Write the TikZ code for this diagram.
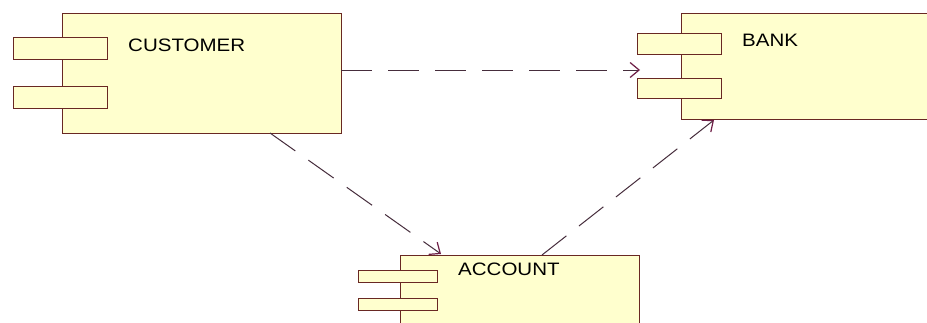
\documentclass[tikz,border=0pt]{standalone}
\usepackage{fontspec}
\newfontfamily\lblfont[FakeStretch=1.14]{Liberation Sans}
\usetikzlibrary{arrows.meta}
\definecolor{boxfill}{RGB}{255,255,206}
\definecolor{boxline}{RGB}{105,40,35}
\definecolor{depline}{RGB}{70,45,60}
\definecolor{headcol}{RGB}{110,30,70}
\tikzset{
  comp/.style={draw=boxline, fill=boxfill, line width=1.4pt, rectangle, anchor=north west, inner sep=0pt},
  port/.style={draw=boxline, fill=boxfill, line width=1.4pt, rectangle, anchor=north west, inner sep=0pt},
  lbl/.style={anchor=base west, inner sep=0pt, font=\lblfont\fontsize{18}{20}\selectfont, text=black},
  dep/.style={draw=depline, line width=1pt, dash pattern=on 31pt off 16pt,
    -{Straight Barb[length=9pt,width=15pt,line width=1.2pt,color=headcol]}}
}
\begin{document}
\begin{tikzpicture}[x=1pt,y=-1pt]
\useasboundingbox (0,0) rectangle (927,322);
\fill[white] (0,0) rectangle (927,322);
\clip (0,0) rectangle (927,322);
% CUSTOMER
\node[comp, minimum width=279pt, minimum height=120pt] (customer) at (62,13) {};
\node[port, minimum width=94pt, minimum height=22pt] (cp1) at (13,37) {};
\node[port, minimum width=94pt, minimum height=22pt] (cp2) at (13,86) {};
\node[lbl] (customerlbl) at (128,51) {CUSTOMER};
% BANK
\node[comp, minimum width=300pt, minimum height=106pt] (bank) at (681,13) {};
\node[port, minimum width=84pt, minimum height=21pt] (bp1) at (637,33) {};
\node[port, minimum width=84pt, minimum height=20pt] (bp2) at (637,78) {};
\node[lbl] (banklbl) at (742,46) {BANK};
% ACCOUNT
\node[comp, minimum width=239pt, minimum height=100pt] (account) at (400,255) {};
\node[port, minimum width=79pt, minimum height=12pt] (ap1) at (358,270) {};
\node[port, minimum width=79pt, minimum height=12pt] (ap2) at (358,298) {};
\node[lbl] (accountlbl) at (458,275) {ACCOUNT};
% connector end points
\coordinate (c1) at (341,70);
\coordinate (b1) at (640,70);
\coordinate (c2) at (270,133);
\coordinate (a2) at (441,254);
\coordinate (a3) at (542,255);
\coordinate (b3) at (714,120);
\draw[dep] (c1) -- (b1);
\draw[dep] (c2) -- (a2);
\draw[dep] (a3) -- (b3);
\end{tikzpicture}
\end{document}
